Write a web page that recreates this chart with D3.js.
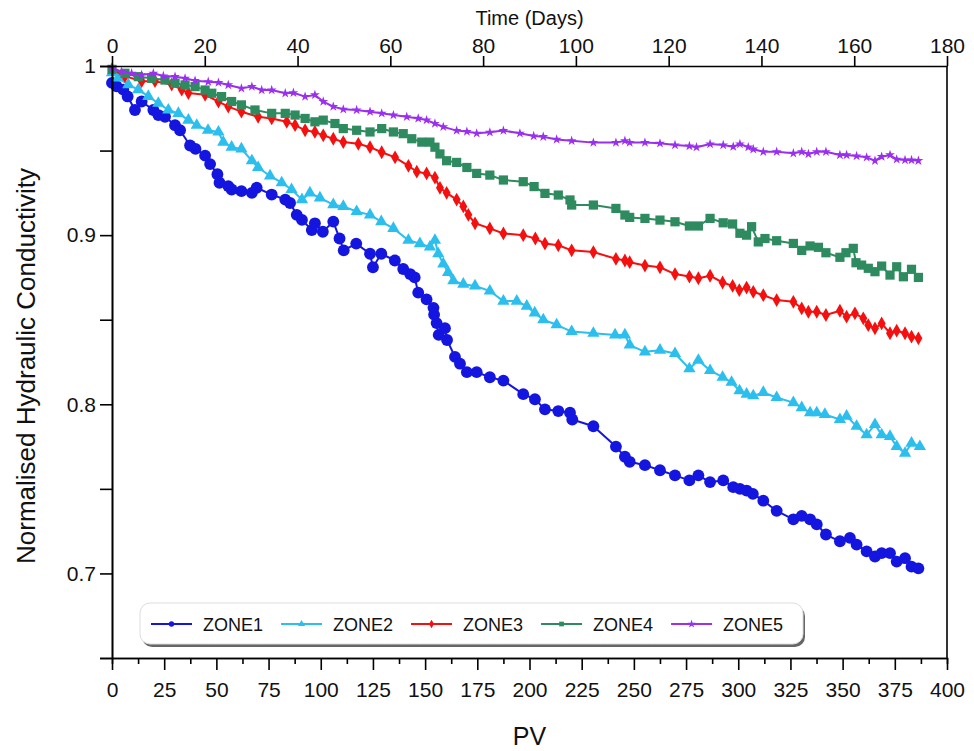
<!DOCTYPE html>
<html lang="en">
<head>
    <meta charset="UTF-8">
    <title>Normalised Hydraulic Conductivity vs PV</title>
    <script src="https://d3js.org/d3.v7.min.js"></script>
    <style>
        body { margin: 0; background: #fff; }
        svg { font-family: "Liberation Sans", Arial, sans-serif; }
    </style>
</head>
<body>
<svg id="chart" width="974" height="751"></svg>
<script>
// zone names
const zoneNames = ['ZONE1', 'ZONE2', 'ZONE3', 'ZONE4', 'ZONE5'];

// [PV, normalised K]
const zone1 = [[0,0.990],[2.2,0.988],[5.4,0.986],[7.5,0.982],[11,0.974],[14.2,0.979],[19.8,0.974],[22.2,0.971],[25.4,0.970],[30.2,0.965],[32.6,0.962],[37.4,0.953],[40,0.951],[44.6,0.947],[47,0.942],[50.5,0.936],[51.5,0.931],[55.7,0.929],[57.3,0.927],[62,0.926],[67,0.925],[69.3,0.928],[76.5,0.924],[83,0.921],[85.3,0.919],[88.5,0.912],[91,0.909],[95.7,0.903],[97.2,0.907],[101,0.902],[106,0.908],[109,0.898],[111,0.891],[117,0.895],[123.6,0.889],[125,0.881],[129,0.889],[135.5,0.885],[139.5,0.880],[142.8,0.877],[145,0.875],[146.7,0.866],[150.7,0.862],[154,0.857],[154.3,0.853],[155.5,0.848],[156.5,0.841],[159.5,0.845],[160.5,0.838],[164.3,0.828],[166.7,0.824],[170,0.819],[174.7,0.819],[181,0.816],[187.5,0.814],[197,0.806],[202.6,0.803],[207.4,0.797],[213.8,0.796],[219.4,0.795],[220.5,0.791],[230.6,0.787],[241.4,0.775],[245.7,0.769],[248,0.766],[255.3,0.764],[262.5,0.761],[269.7,0.758],[276.6,0.755],[280.9,0.758],[286.5,0.754],[292.8,0.755],[297.6,0.751],[300.8,0.750],[304,0.749],[307,0.747],[312,0.743],[318.4,0.737],[326.4,0.732],[330.4,0.734],[334.4,0.732],[337.6,0.729],[342,0.723],[348.7,0.719],[353.5,0.721],[356.7,0.717],[361.5,0.713],[365.5,0.710],[368.7,0.712],[372.7,0.712],[375.9,0.707],[379.9,0.709],[383,0.704],[386.3,0.703]];

const zone2 = [[0,0.996],[3,0.993],[7.8,0.989],[12.6,0.986],[17.4,0.982],[22.2,0.978],[27,0.974],[31.8,0.972],[36.6,0.968],[40.6,0.965],[46,0.962],[51,0.961],[53.3,0.955],[57.3,0.952],[62,0.951],[67,0.944],[70,0.940],[75.7,0.935],[81.3,0.931],[86,0.927],[91,0.921],[94.8,0.925],[99.6,0.922],[106,0.918],[110.8,0.917],[117.2,0.914],[123.6,0.912],[129,0.908],[134.8,0.904],[142,0.897],[147.5,0.895],[152.3,0.893],[154.7,0.897],[156.3,0.889],[158.7,0.883],[161,0.878],[163.5,0.873],[168.3,0.871],[173.9,0.870],[181,0.867],[187.5,0.861],[193.9,0.861],[198.7,0.858],[202.5,0.854],[206.6,0.850],[213,0.847],[220.2,0.843],[230.6,0.842],[241,0.841],[245.7,0.841],[248,0.835],[255.3,0.831],[262.5,0.832],[269.7,0.830],[276.6,0.821],[280.9,0.826],[286.5,0.820],[292.5,0.816],[296.8,0.813],[300.6,0.808],[304,0.806],[307.2,0.805],[312,0.807],[318.4,0.804],[326.4,0.801],[330.4,0.798],[334.4,0.795],[337.6,0.795],[341.5,0.794],[348.7,0.791],[351.9,0.793],[356.7,0.787],[361.5,0.782],[365.5,0.788],[368.7,0.782],[372.7,0.781],[375.9,0.775],[379.9,0.771],[383,0.777],[387,0.775]];

const zone3 = [[0,0.998],[6.2,0.994],[14.2,0.991],[20.6,0.991],[28.6,0.989],[33.4,0.986],[36.6,0.984],[44.6,0.983],[51,0.979],[55.7,0.976],[62,0.973],[70,0.970],[76.5,0.969],[83.7,0.967],[87.7,0.965],[92.5,0.962],[97.2,0.961],[101.2,0.959],[106,0.957],[110.8,0.955],[118,0.954],[123.6,0.952],[129.2,0.949],[135.6,0.946],[142,0.941],[146,0.9375],[150.7,0.9365],[154.7,0.934],[157.1,0.928],[160.3,0.925],[165.1,0.921],[168.3,0.917],[170.7,0.912],[173.9,0.907],[181,0.904],[187.5,0.901],[197,0.900],[202.8,0.898],[207.4,0.895],[213.8,0.894],[220.2,0.891],[230.6,0.890],[241.4,0.886],[245.7,0.885],[248,0.884],[255.3,0.882],[262.5,0.881],[269.7,0.877],[276.6,0.8755],[280.9,0.8745],[286.5,0.876],[292.5,0.872],[297.3,0.870],[300.5,0.8675],[304,0.869],[307.2,0.8665],[312,0.8645],[318.4,0.8616],[326.4,0.8606],[330.4,0.8567],[333.6,0.8547],[337.6,0.8547],[342,0.8528],[348.7,0.8553],[351.9,0.8518],[355.9,0.8538],[359.9,0.8508],[362.3,0.8468],[365.5,0.8449],[368.7,0.8478],[372.7,0.842],[375.9,0.8435],[379.9,0.842],[383,0.840],[386.3,0.839]];

const zone4 = [[0,0.998],[6.2,0.9957],[12.6,0.9937],[19,0.9927],[25.4,0.9917],[30.2,0.9898],[35,0.9888],[39.8,0.9878],[44.6,0.9858],[47.8,0.9839],[52.5,0.9819],[57.3,0.979],[62,0.977],[68.5,0.974],[76.5,0.972],[83,0.972],[87.7,0.971],[92.5,0.969],[97.2,0.967],[101.2,0.968],[106.8,0.966],[110.8,0.963],[117.2,0.962],[123.6,0.961],[129.2,0.963],[134.8,0.961],[139.5,0.960],[143.6,0.957],[148.4,0.955],[152.3,0.955],[154.7,0.952],[157.1,0.948],[160.3,0.944],[165.1,0.943],[170,0.940],[174.7,0.9365],[181,0.9355],[187.5,0.9326],[197,0.9316],[202.2,0.9287],[207.4,0.9247],[213.8,0.9237],[219.4,0.9208],[220.2,0.9178],[230.6,0.9178],[241.4,0.9158],[245.7,0.9119],[248,0.9105],[255.3,0.9099],[262.5,0.9089],[269.7,0.9079],[276.6,0.9054],[280.9,0.9054],[286.5,0.9099],[292.8,0.9073],[297.3,0.9066],[300.8,0.9011],[304,0.900],[306.4,0.905],[309.6,0.896],[312.8,0.898],[318.4,0.8967],[326.4,0.8951],[330.4,0.891],[334.4,0.8936],[338.4,0.8928],[342,0.8896],[348.7,0.8869],[351.6,0.8896],[355.1,0.8922],[356.4,0.8837],[359.1,0.8823],[362.3,0.8804],[365.5,0.8784],[368.7,0.8817],[372.7,0.8764],[375.9,0.8813],[379.1,0.8754],[383,0.8798],[386.3,0.875]];

const zone5 = [[0,0.999],[4.6,0.9966],[9.4,0.9957],[14.2,0.9947],[19.8,0.9957],[24.6,0.9941],[30.2,0.9937],[35,0.9927],[39.8,0.9913],[46.1,0.9907],[51,0.9902],[55.7,0.9888],[62,0.9868],[67,0.9878],[71.7,0.9858],[76.5,0.9858],[83,0.9839],[86.9,0.9842],[92.5,0.9819],[97.2,0.9829],[101.2,0.979],[106,0.976],[110.8,0.9744],[117.2,0.974],[123.6,0.973],[129.2,0.972],[134.8,0.971],[141.2,0.970],[146.7,0.969],[150.7,0.968],[154.7,0.966],[158.7,0.964],[165.1,0.9618],[170,0.9612],[174.7,0.9602],[181,0.9608],[187.5,0.9618],[195.4,0.9602],[202,0.9586],[206.6,0.9582],[213,0.9566],[220.2,0.9558],[230.6,0.9547],[241.4,0.9547],[245.7,0.9558],[248,0.9547],[255.3,0.9547],[262.5,0.9543],[269.7,0.9533],[276.6,0.9527],[280,0.952],[286.5,0.9539],[292.8,0.9533],[297.6,0.9523],[300.8,0.9539],[304.8,0.952],[307.2,0.9508],[312,0.9493],[318.4,0.9493],[326.4,0.9484],[330.4,0.9493],[333.6,0.948],[337.6,0.9493],[342,0.9493],[348.7,0.9474],[351.9,0.9474],[356.7,0.9468],[361.5,0.946],[365.5,0.944],[368.7,0.9464],[372.7,0.9474],[375.9,0.9448],[379.9,0.9444],[383,0.9444],[386.3,0.944]];

// axis ticks
const pvTicks = d3.range(0, 401, 25);
const pvMinorTicks = d3.range(12.5, 400, 25);
const dayTicks = d3.range(0, 181, 20);
const kTicks = [0.7, 0.8, 0.9, 1];
const kMinorTicks = [0.65, 0.75, 0.85, 0.95];

const series = [
    { name: zoneNames[0], data: zone1, color: '#1515e0', symbol: d3.symbolCircle, size: 110 },
    { name: zoneNames[1], data: zone2, color: '#2cbfee', symbol: d3.symbolTriangle, size: 65 },
    { name: zoneNames[2], data: zone3, color: '#f51010', symbol: d3.symbolDiamond, size: 55 },
    { name: zoneNames[3], data: zone4, color: '#2e8b5f', symbol: d3.symbolSquare, size: 85 },
    { name: zoneNames[4], data: zone5, color: '#9a2ff0', symbol: d3.symbolStar, size: 30 }
];

const svg = d3.select('#chart');
const plotLeft = 112, plotRight = 947, plotTop = 66, plotBottom = 658;

const x = d3.scaleLinear().domain([0, 400]).range([plotLeft, plotRight]);
const xTop = d3.scaleLinear().domain([0, 180]).range([plotLeft, plotRight]);
const y = d3.scaleLinear().domain([0.65, 1]).range([plotBottom, plotTop]);

// series lines + markers
const line = d3.line().x(d => x(d[0])).y(d => y(d[1]));
series.forEach(s => {
    const g = svg.append('g');
    g.append('path')
        .datum(s.data)
        .attr('fill', 'none')
        .attr('stroke', s.color)
        .attr('stroke-width', 2)
        .attr('stroke-linejoin', 'round')
        .attr('d', line);
    g.selectAll('path.m')
        .data(s.data)
        .enter().append('path')
        .attr('class', 'm')
        .attr('transform', d => `translate(${x(d[0])},${y(d[1])})`)
        .attr('d', d3.symbol().type(s.symbol).size(s.size))
        .attr('fill', s.color);
});

// axes
function styleAxis(g) {
    g.select('.domain').attr('stroke', '#000').attr('stroke-width', 1.6);
    g.selectAll('.tick line').attr('stroke', '#000').attr('stroke-width', 1.6);
    g.selectAll('.tick text').attr('fill', '#111').style('font-size', '21px');
}

svg.append('g')
    .attr('transform', `translate(0,${plotBottom})`)
    .call(d3.axisBottom(x).tickValues(pvMinorTicks).tickSize(6).tickFormat(''))
    .call(styleAxis);
svg.append('g')
    .attr('transform', `translate(0,${plotBottom})`)
    .call(d3.axisBottom(x).tickValues(pvTicks).tickSize(12).tickPadding(12).tickSizeOuter(0))
    .call(styleAxis);

svg.append('g')
    .attr('transform', `translate(0,${plotTop})`)
    .call(d3.axisTop(xTop).tickValues(dayTicks).tickSize(10).tickPadding(3).tickSizeOuter(0))
    .call(styleAxis);

svg.append('g')
    .attr('transform', `translate(${plotLeft},0)`)
    .call(d3.axisLeft(y).tickValues(kMinorTicks).tickSize(12).tickFormat(''))
    .call(styleAxis);
svg.append('g')
    .attr('transform', `translate(${plotLeft},0)`)
    .call(d3.axisLeft(y).tickValues(kTicks).tickSize(12).tickPadding(4).tickSizeOuter(0).tickFormat(d => String(+d.toFixed(1))))
    .call(styleAxis);

// right frame line
svg.append('line')
    .attr('x1', plotRight).attr('x2', plotRight)
    .attr('y1', plotTop).attr('y2', plotBottom)
    .attr('stroke', '#000').attr('stroke-width', 1.6);

// axis titles
svg.append('text')
    .attr('x', (plotLeft + plotRight) / 2).attr('y', 745)
    .attr('text-anchor', 'middle')
    .style('font-size', '25px').attr('fill', '#111')
    .text('PV');
svg.append('text')
    .attr('x', (plotLeft + plotRight) / 2).attr('y', 25)
    .attr('text-anchor', 'middle')
    .style('font-size', '20px').attr('fill', '#111')
    .text('Time (Days)');
svg.append('text')
    .attr('transform', 'translate(35,366) rotate(-90)')
    .attr('text-anchor', 'middle')
    .style('font-size', '26px').attr('fill', '#111')
    .text('Normalised Hydraulic Conductivity');

// legend
const legend = svg.append('g');
legend.append('rect')
    .attr('x', 142).attr('y', 606).attr('width', 663).attr('height', 41)
    .attr('rx', 10).attr('fill', '#666');
legend.append('rect')
    .attr('x', 140).attr('y', 603).attr('width', 663).attr('height', 41)
    .attr('rx', 10).attr('fill', '#fff').attr('stroke', '#ddd');

let lx = 151;
series.forEach(s => {
    const item = legend.append('g');
    item.append('line')
        .attr('x1', lx).attr('x2', lx + 41)
        .attr('y1', 624).attr('y2', 624)
        .attr('stroke', s.color).attr('stroke-width', 2);
    item.append('path')
        .attr('transform', `translate(${lx + 20.5},624)`)
        .attr('d', d3.symbol().type(s.symbol).size(22))
        .attr('fill', s.color);
    const t = item.append('text')
        .attr('x', lx + 52).attr('y', 631)
        .style('font-size', '18px').attr('fill', '#111')
        .text(s.name);
    lx += 52 + t.node().getComputedTextLength() + 18;
});
</script>
</body>
</html>
